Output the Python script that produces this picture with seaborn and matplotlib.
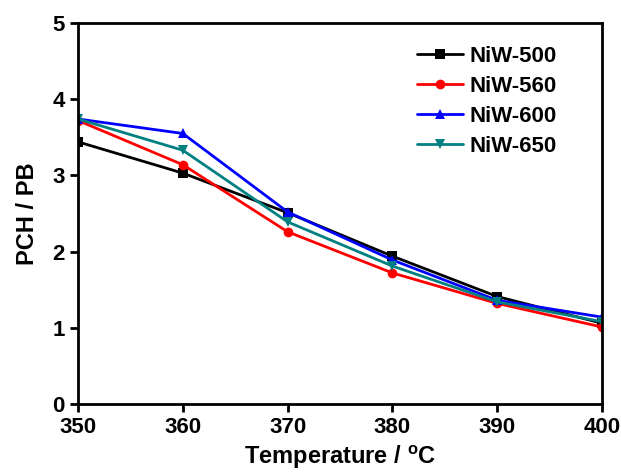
import numpy as np
import pandas as pd
import matplotlib
matplotlib.use("Agg")
import matplotlib.pyplot as plt
import seaborn as sns

temps = [350, 360, 370, 380, 390, 400]
niw500 = [3.44, 3.03, 2.51, 1.94, 1.41, 1.06]
niw560 = [3.72, 3.14, 2.26, 1.72, 1.32, 1.01]
niw600 = [3.74, 3.55, 2.52, 1.89, 1.36, 1.14]
niw650 = [3.74, 3.33, 2.39, 1.81, 1.34, 1.08]
series_names = ["NiW-500", "NiW-560", "NiW-600", "NiW-650"]
colors = ["#000000", "#FF0000", "#0000FF", "#008080"]
markers = ["s", "o", "^", "v"]

rows = []
for name, vals in zip(series_names, [niw500, niw560, niw600, niw650]):
    for t, v in zip(temps, vals):
        rows.append({"Temperature": t, "PCH/PB": v, "Sample": name})
df = pd.DataFrame(rows)

sns.set_theme(style="ticks")
plt.rcParams["font.family"] = ["Liberation Sans", "DejaVu Sans"]
plt.rcParams["font.weight"] = "bold"
plt.rcParams["text.color"] = "black"
plt.rcParams["axes.labelcolor"] = "black"

fig = plt.figure(figsize=(6.21, 4.74), dpi=100)
ax = fig.add_axes([0.1256, 0.1477, 0.8438, 0.8038])

sns.lineplot(data=df, x="Temperature", y="PCH/PB", hue="Sample", style="Sample",
             palette=dict(zip(series_names, colors)),
             markers=dict(zip(series_names, markers)),
             dashes=False, markersize=7, linewidth=2, markeredgewidth=0,
             ax=ax, legend=True)

ax.set_xlim(350, 400)
ax.set_ylim(0, 5)
ax.set_xticks(temps)
ax.set_yticks([0, 1, 2, 3, 4, 5])
ax.set_xlabel("Temperature / $\\mathregular{^o}$C", fontsize=17, fontweight="bold",
              labelpad=4, color="black")
ax.set_ylabel("PCH / PB", fontsize=17, fontweight="bold", labelpad=10, color="black")
ax.tick_params(axis="both", labelsize=16, width=2, length=6, direction="out", colors="black")
for lab in ax.get_xticklabels() + ax.get_yticklabels():
    lab.set_fontweight("bold")
for s in ax.spines.values():
    s.set_linewidth(2)
    s.set_color("black")

leg = ax.legend(loc="upper left", bbox_to_anchor=(0.647, 0.94), frameon=False,
                prop={"size": 16, "weight": "bold"}, handlelength=2.05,
                handletextpad=0.3, borderpad=0, borderaxespad=0,
                labelspacing=0.4, title=None)
for t in leg.get_texts():
    t.set_color("black")

fig.savefig("out.png", dpi=100)
